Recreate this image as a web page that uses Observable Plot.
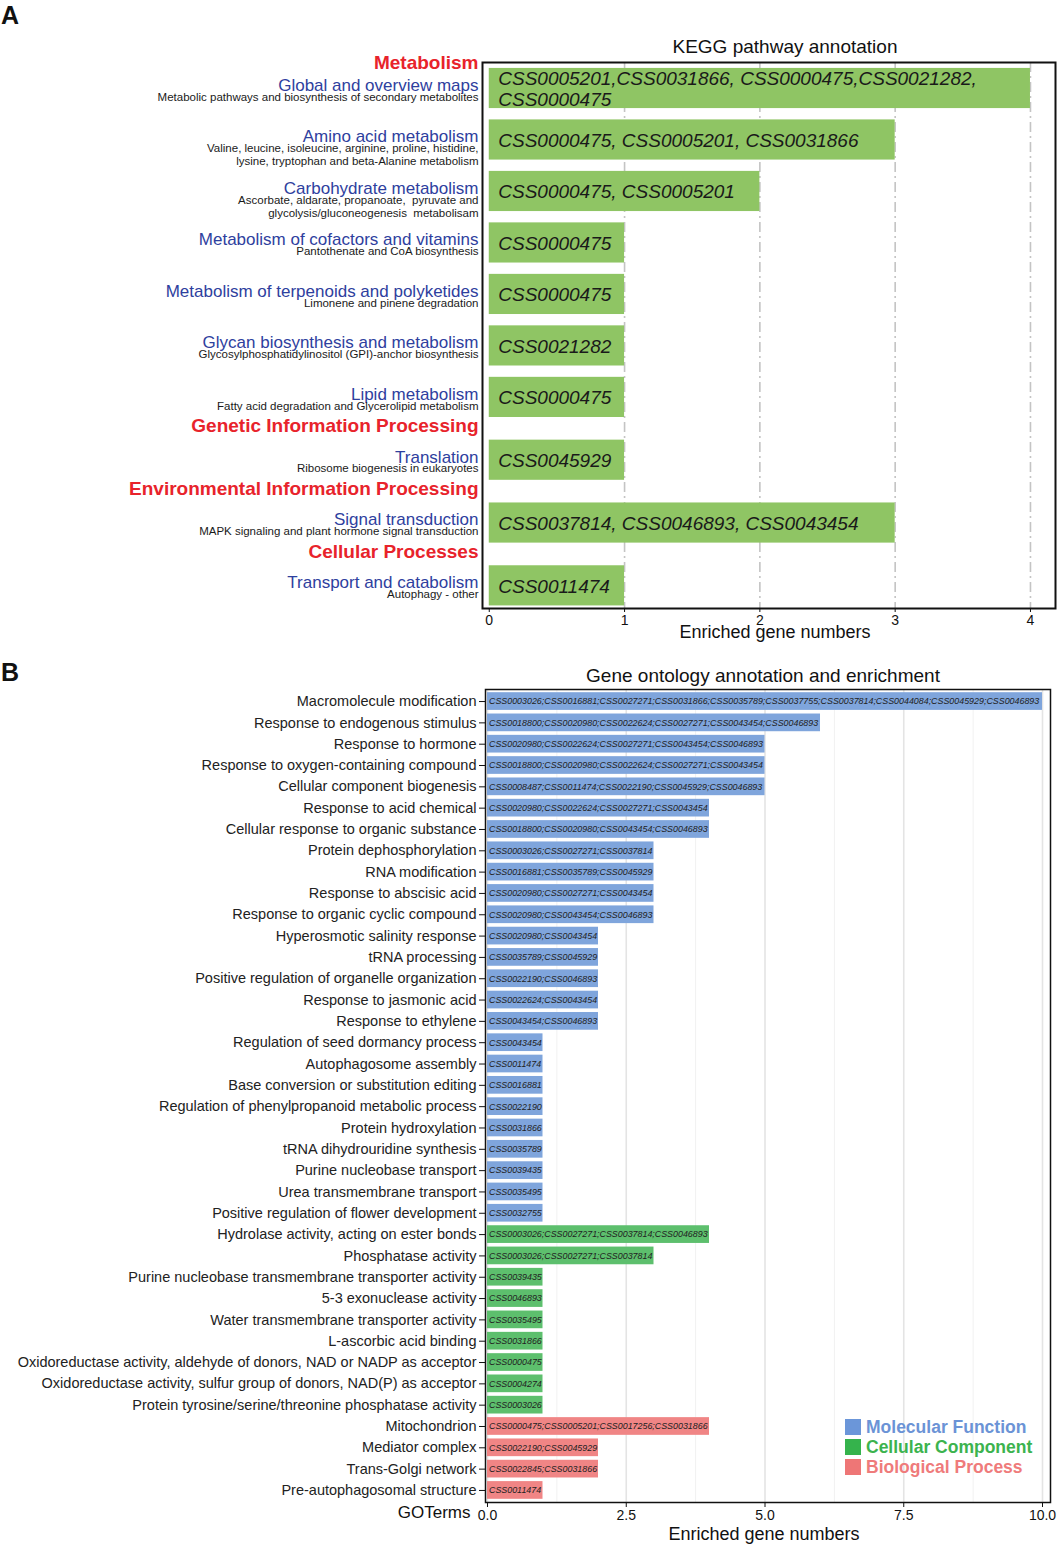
<!DOCTYPE html>
<html>
<head>
<meta charset="utf-8">
<script src="https://cdn.jsdelivr.net/npm/d3@7"></script>
<script src="https://cdn.jsdelivr.net/npm/@observablehq/plot@0.6"></script>
<style>
  html, body { margin: 0; padding: 0; background: #fff; }
  #root { position: relative; width: 1063px; height: 1551px; overflow: hidden; background: #fff;
          font-family: "Liberation Sans", Arial, sans-serif; color: #111; }
  .abs { position: absolute; white-space: nowrap; }
  .letter { font-weight: bold; font-size: 25px; line-height: 26px; }
  .title { font-size: 19px; line-height: 22px; text-align: center; width: 500px; }
  .legend-row { display: flex; align-items: center; height: 20px; font-weight: bold; font-size: 17.5px; }
  .legend-sw { width: 16px; height: 16px; margin-right: 5px; }
</style>
</head>
<body>
<div id="root">
  <div class="abs letter" style="left:1px;top:2px;">A</div>
  <div class="abs letter" style="left:1px;top:659px;">B</div>
  <div class="abs title" style="left:535px;top:36px;">KEGG pathway annotation</div>
  <div class="abs title" style="left:513px;top:665px;">Gene ontology annotation and enrichment</div>
  <div id="plotA" class="abs" style="left:0;top:0;"></div>
  <div id="plotB" class="abs" style="left:0;top:650px;"></div>
  <div id="legend" class="abs" style="left:845px;top:1417px;"></div>
</div>
<script>
// ---------------- Panel A data (KEGG) ----------------
const keggGroups = [
  "Metabolism", "Metabolism", "Metabolism", "Metabolism", "Metabolism", "Metabolism", "Metabolism",
  "Genetic Information Processing", "Environmental Information Processing", "Cellular Processes"
];
const keggPathways = [
  "Global and overview maps", "Amino acid metabolism", "Carbohydrate metabolism",
  "Metabolism of cofactors and vitamins", "Metabolism of terpenoids and polyketides",
  "Glycan biosynthesis and metabolism", "Lipid metabolism", "Translation",
  "Signal transduction", "Transport and catabolism"
];
const keggDetails = [
  "Metabolic pathways and biosynthesis of secondary metabolites",
  "Valine, leucine, isoleucine, arginine, proline, histidine,\nlysine, tryptophan and beta-Alanine metabolism",
  "Ascorbate, aldarate, propanoate,  pyruvate and\nglycolysis/gluconeogenesis  metabolisam",
  "Pantothenate and CoA biosynthesis",
  "Limonene and pinene degradation",
  "Glycosylphosphatidylinositol (GPI)-anchor biosynthesis",
  "Fatty acid degradation and Glycerolipid metabolism",
  "Ribosome biogenesis in eukaryotes",
  "MAPK signaling and plant hormone signal transduction",
  "Autophagy - other"
];
const keggValues = [4, 3, 2, 1, 1, 1, 1, 1, 3, 1];
const keggGenes = [
  "CSS0005201,CSS0031866, CSS0000475,CSS0021282,\nCSS0000475",
  "CSS0000475, CSS0005201, CSS0031866",
  "CSS0000475, CSS0005201",
  "CSS0000475",
  "CSS0000475",
  "CSS0021282",
  "CSS0000475",
  "CSS0045929",
  "CSS0037814, CSS0046893, CSS0043454",
  "CSS0011474"
];
const keggTicks = [0, 1, 2, 3, 4];
const keggGrid = [1, 2, 3, 4];

// ---------------- Panel B data (GO) ----------------
const goGroupNames = ["Molecular Function", "Cellular Component", "Biological Process"];
const goTerms = [
  "Macromolecule modification", "Response to endogenous stimulus", "Response to hormone",
  "Response to oxygen-containing compound", "Cellular component biogenesis", "Response to acid chemical",
  "Cellular response to organic substance", "Protein dephosphorylation", "RNA modification",
  "Response to abscisic acid", "Response to organic cyclic compound", "Hyperosmotic salinity response",
  "tRNA processing", "Positive regulation of organelle organization", "Response to jasmonic acid",
  "Response to ethylene", "Regulation of seed dormancy process", "Autophagosome assembly",
  "Base conversion or substitution editing", "Regulation of phenylpropanoid metabolic process",
  "Protein hydroxylation", "tRNA dihydrouridine synthesis", "Purine nucleobase transport",
  "Urea transmembrane transport", "Positive regulation of flower development",
  "Hydrolase activity, acting on ester bonds", "Phosphatase activity",
  "Purine nucleobase transmembrane transporter activity", "5-3 exonuclease activity",
  "Water transmembrane transporter activity", "L-ascorbic acid binding",
  "Oxidoreductase activity, aldehyde of donors, NAD or NADP as acceptor",
  "Oxidoreductase activity, sulfur group of donors, NAD(P) as acceptor",
  "Protein tyrosine/serine/threonine phosphatase activity",
  "Mitochondrion", "Mediator complex", "Trans-Golgi network", "Pre-autophagosomal structure"
];
const goGroups = [
  ...Array(25).fill("Molecular Function"),
  ...Array(9).fill("Cellular Component"),
  ...Array(4).fill("Biological Process")
];
const goValues = [10, 6, 5, 5, 5, 4, 4, 3, 3, 3, 3, 2, 2, 2, 2, 2, 1, 1, 1, 1, 1, 1, 1, 1, 1,
                  4, 3, 1, 1, 1, 1, 1, 1, 1,
                  4, 2, 2, 1];
const goGenes = [
  "CSS0003026;CSS0016881;CSS0027271;CSS0031866;CSS0035789;CSS0037755;CSS0037814;CSS0044084;CSS0045929;CSS0046893",
  "CSS0018800;CSS0020980;CSS0022624;CSS0027271;CSS0043454;CSS0046893",
  "CSS0020980;CSS0022624;CSS0027271;CSS0043454;CSS0046893",
  "CSS0018800;CSS0020980;CSS0022624;CSS0027271;CSS0043454",
  "CSS0008487;CSS0011474;CSS0022190;CSS0045929;CSS0046893",
  "CSS0020980;CSS0022624;CSS0027271;CSS0043454",
  "CSS0018800;CSS0020980;CSS0043454;CSS0046893",
  "CSS0003026;CSS0027271;CSS0037814",
  "CSS0016881;CSS0035789;CSS0045929",
  "CSS0020980;CSS0027271;CSS0043454",
  "CSS0020980;CSS0043454;CSS0046893",
  "CSS0020980;CSS0043454",
  "CSS0035789;CSS0045929",
  "CSS0022190;CSS0046893",
  "CSS0022624;CSS0043454",
  "CSS0043454;CSS0046893",
  "CSS0043454",
  "CSS0011474",
  "CSS0016881",
  "CSS0022190",
  "CSS0031866",
  "CSS0035789",
  "CSS0039435",
  "CSS0035495",
  "CSS0032755",
  "CSS0003026;CSS0027271;CSS0037814;CSS0046893",
  "CSS0003026;CSS0027271;CSS0037814",
  "CSS0039435",
  "CSS0046893",
  "CSS0035495",
  "CSS0031866",
  "CSS0000475",
  "CSS0004274",
  "CSS0003026",
  "CSS0000475;CSS0005201;CSS0017256;CSS0031866",
  "CSS0022190;CSS0045929",
  "CSS0022845;CSS0031866",
  "CSS0011474"
];
const goTicks = [0, 2.5, 5, 7.5, 10];
const goMinorGrid = [1.25, 3.75, 6.25, 8.75];

// ---------------- build tables ----------------
const FONT = "Liberation Sans, Arial, Helvetica, sans-serif";
const rowsA = [];
const headersA = [];
let pos = 0;
keggPathways.forEach((name, i) => {
  if (i > 0) pos += 1;
  const newGroup = i === 0 || keggGroups[i] !== keggGroups[i - 1];
  if (newGroup && i > 0) pos += 0.22;
  if (newGroup) headersA.push({name: keggGroups[i], idx: i === 0 ? pos - 0.5 : pos - 0.66});
  rowsA.push({name, sub: keggDetails[i], value: keggValues[i], genes: keggGenes[i], idx: pos});
});

const plotA = Plot.plot({
  width: 1063, height: 645,
  marginTop: 62, marginBottom: 37, marginLeft: 482, marginRight: 8,
  x: {domain: [-0.05, 4.185]},
  y: {domain: [10.1, -0.505], axis: null},
  style: {fontFamily: FONT, fontSize: "14px", background: "transparent", overflow: "visible", color: "#111"},
  marks: [
    Plot.ruleX(keggGrid, {stroke: "#c4c4c4", strokeWidth: 1.6, strokeDasharray: "10,4,2,4"}),
    Plot.rect(rowsA, {x1: 0, x2: "value", y1: d => d.idx - 0.39, y2: d => d.idx + 0.39, fill: "#8fc564"}),
    Plot.text(rowsA, {x: 0, y: "idx", text: "genes", dx: 9, textAnchor: "start", fontStyle: "italic",
      fontSize: 19, fill: "#1a1a1a", lineHeight: 1.15}),
    Plot.frame({stroke: "#111", strokeWidth: 2}),
    Plot.text(rowsA, {frameAnchor: "left", y: "idx", text: "name", dx: -4, dy: -3, textAnchor: "end",
      fill: "#2e409e", fontSize: 17}),
    Plot.text(rowsA, {frameAnchor: "left", y: "idx", text: "sub", dx: -4, dy: 3, lineAnchor: "top",
      textAnchor: "end", fill: "#1a1a1a", fontSize: 11.5, lineHeight: 1.13}),
    Plot.text(headersA, {frameAnchor: "left", y: "idx", text: "name", dx: -4, textAnchor: "end",
      fill: "#e8232b", fontWeight: "bold", fontSize: 19}),
    Plot.axisX({ticks: keggTicks, tickFormat: d3.format("d"), tickSize: 4, tickPadding: 3, fontSize: 14, label: null}),
    Plot.text(["Enriched gene numbers"], {frameAnchor: "bottom", dx: 6, dy: 29, fontSize: 18, fill: "#111"})
  ]
});
document.getElementById("plotA").appendChild(plotA);

const rowsB = goTerms.map((term, i) => ({term, group: goGroups[i], value: goValues[i], genes: goGenes[i]}));

const plotB = Plot.plot({
  width: 1063, height: 901,
  marginTop: 39, marginBottom: 49, marginLeft: 485, marginRight: 13,
  x: {domain: [-0.036, 10.144]},
  y: {domain: goTerms, paddingInner: 0.17, paddingOuter: 0.15, round: false},
  color: {domain: goGroupNames, range: ["#7fa5dc", "#5dbf6d", "#f08585"]},
  style: {fontFamily: FONT, fontSize: "14px", background: "transparent", overflow: "visible", color: "#111"},
  marks: [
    Plot.ruleX(goMinorGrid, {stroke: "#f1f1f1", strokeWidth: 1}),
    Plot.ruleX(goTicks, {stroke: "#e4e4e4", strokeWidth: 1.6}),
    Plot.barX(rowsB, {x: "value", y: "term", fill: "group"}),
    Plot.text(rowsB, {x: 0, y: "term", text: "genes", dx: 1.5, textAnchor: "start", fontStyle: "italic",
      fontSize: 8.9, fill: "#222"}),
    Plot.frame({stroke: "#111", strokeWidth: 1.5}),
    Plot.axisY({tickSize: 6, tickPadding: 3, fontSize: 14.5, label: null, fill: "#222"}),
    Plot.axisX({ticks: goTicks, tickFormat: d3.format(".1f"), tickSize: 5, tickPadding: 3, fontSize: 14, label: null}),
    Plot.text(["GOTerms"], {frameAnchor: "bottom-left", dx: -15, dy: 15, textAnchor: "end", fontSize: 17, fill: "#111"}),
    Plot.text(["Enriched gene numbers"], {frameAnchor: "bottom", dx: -4, dy: 37, fontSize: 18, fill: "#111"})
  ]
});
document.getElementById("plotB").appendChild(plotB);

// legend
const legendSw = ["#6b96d9", "#35b34c", "#ee7676"];
const legendTx = ["#6b93d6", "#3cb34e", "#ef7b7b"];
const legend = document.getElementById("legend");
goGroupNames.forEach((g, i) => {
  const row = document.createElement("div");
  row.className = "legend-row";
  const sw = document.createElement("div");
  sw.className = "legend-sw";
  sw.style.background = legendSw[i];
  const tx = document.createElement("span");
  tx.textContent = g;
  tx.style.color = legendTx[i];
  row.appendChild(sw); row.appendChild(tx);
  legend.appendChild(row);
});
</script>
</body>
</html>
